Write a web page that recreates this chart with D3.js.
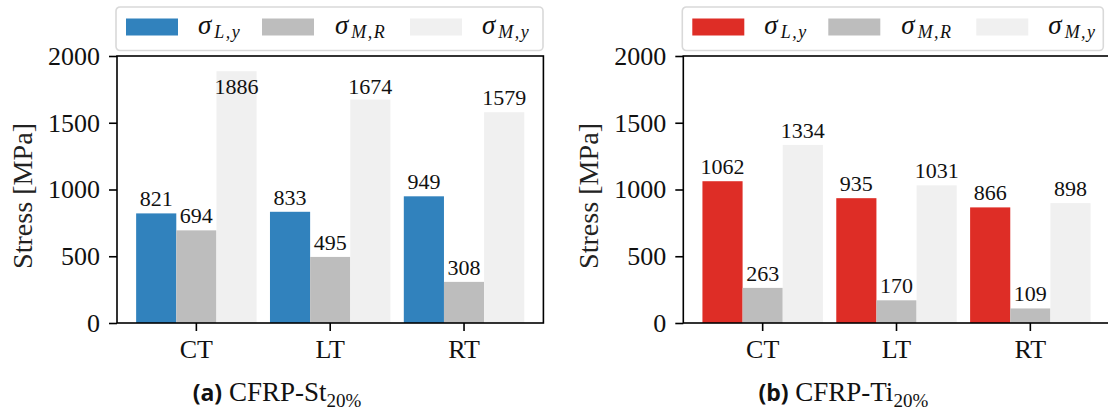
<!DOCTYPE html>
<html>
<head>
<meta charset="utf-8">
<script src="https://cdn.jsdelivr.net/npm/d3@7"></script>
<style>
  html, body { margin: 0; padding: 0; background: #fff; }
  svg { display: block; }
</style>
</head>
<body>
<svg id="fig" width="1108" height="412"></svg>
<script>
// Test locations on the x axis
const categories = ["CT", "LT", "RT"];
// Series keys and their legend text (main symbol + subscript)
const seriesKeys = ["Ly", "MR", "My"];
const seriesSymbol = ["σ", "σ", "σ"];
const seriesSub = ["L,y", "M,R", "M,y"];

// Yield / strength values in MPa, one array per series, per material
const stLy = [821, 833, 949];
const stMR = [694, 495, 308];
const stMy = [1886, 1674, 1579];

const tiLy = [1062, 935, 866];
const tiMR = [263, 170, 109];
const tiMy = [1334, 1031, 898];

const yTicks = [0, 500, 1000, 1500, 2000];

const panels = [
  { tag: "(a)", name: "CFRP-St", sub: "20%", series: [stLy, stMR, stMy],
    colors: ["#3182bd", "#bdbdbd", "#f0f0f0"], left: 117, legendW: 427 },
  { tag: "(b)", name: "CFRP-Ti", sub: "20%", series: [tiLy, tiMR, tiMy],
    colors: ["#de2d26", "#bdbdbd", "#f0f0f0"], left: 683.3, legendW: 421 }
];

const svg = d3.select("#fig");
const AX_W = 426.4, TOP = 56, BOTTOM = 323;
const SERIF = "Liberation Serif, DejaVu Serif, serif";
const LABEL_CEIL = 1715; // labels of very tall bars are kept below the frame

const y = d3.scaleLinear().domain([0, 2000]).range([BOTTOM, TOP]);

panels.forEach(p => {
  const g = svg.append("g");
  const x0 = d3.scaleBand().domain(categories)
    .range([p.left, p.left + AX_W]).paddingInner(0.1).paddingOuter(0.143);
  const x1 = d3.scaleBand().domain(seriesKeys).range([0, x0.bandwidth()]);

  // bars and their value labels
  seriesKeys.forEach((k, si) => {
    const vals = p.series[si];
    const rows = categories.map((c, ci) => ({ c, v: vals[ci] }));
    g.append("g").selectAll("rect").data(rows).join("rect")
      .attr("x", d => x0(d.c) + x1(k))
      .attr("y", d => y(d.v))
      .attr("width", x1.bandwidth())
      .attr("height", d => y(0) - y(d.v))
      .attr("fill", p.colors[si]);
    g.append("g").selectAll("text").data(rows).join("text")
      .attr("x", d => x0(d.c) + x1(k) + x1.bandwidth() / 2)
      .attr("y", d => Math.max(y(d.v) - 7, y(LABEL_CEIL)))
      .attr("text-anchor", "middle")
      .style("font-family", SERIF)
      .attr("font-size", 22)
      .attr("fill", "#111")
      .text(d => d.v);
  });

  // y axis
  const yAxis = g.append("g").attr("transform", `translate(${p.left},0)`)
    .call(d3.axisLeft(y).tickValues(yTicks).tickFormat(d3.format("d"))
      .tickSize(8).tickSizeOuter(0).tickPadding(9));
  yAxis.attr("font-family", null);
  yAxis.select(".domain").remove();
  yAxis.selectAll(".tick line").attr("stroke", "#000").attr("stroke-width", 1.6);
  yAxis.selectAll(".tick text").style("font-family", SERIF).attr("font-size", 26).attr("fill", "#111");

  // x axis
  const xAxis = g.append("g").attr("transform", `translate(0,${BOTTOM})`)
    .call(d3.axisBottom(x0).tickSize(8).tickSizeOuter(0).tickPadding(9));
  xAxis.attr("font-family", null);
  xAxis.select(".domain").remove();
  xAxis.selectAll(".tick line").attr("stroke", "#000").attr("stroke-width", 1.6);
  xAxis.selectAll(".tick text").style("font-family", SERIF).attr("font-size", 26).attr("fill", "#111");

  // frame
  g.append("rect").attr("x", p.left).attr("y", TOP)
    .attr("width", AX_W).attr("height", BOTTOM - TOP)
    .attr("fill", "none").attr("stroke", "#000").attr("stroke-width", 1.6);

  // y label
  g.append("text")
    .attr("transform", `translate(${p.left - 85},196) rotate(-90)`)
    .attr("text-anchor", "middle")
    .style("font-family", SERIF).attr("font-size", 27).attr("fill", "#222")
    .attr("textLength", 146).attr("lengthAdjust", "spacingAndGlyphs")
    .text("Stress [MPa]");

  // legend
  const lx = p.left - 1, ly = 7;
  const lg = g.append("g").attr("transform", `translate(${lx},${ly})`);
  lg.append("rect").attr("width", p.legendW).attr("height", 43.5).attr("rx", 4)
    .attr("fill", "#fff").attr("stroke", "#d9d9d9").attr("stroke-width", 1.6);
  const patchX = [10, 146, 294], textX = [82, 219, 366];
  seriesKeys.forEach((k, si) => {
    lg.append("rect").attr("x", patchX[si]).attr("y", 11.5)
      .attr("width", 52).attr("height", 17).attr("fill", p.colors[si]);
    const t = lg.append("text").attr("x", textX[si]).attr("y", 26.5)
      .style("font-family", SERIF).attr("font-style", "italic").attr("fill", "#111");
    t.append("tspan").attr("font-size", 27).text(seriesSymbol[si]);
    t.append("tspan").attr("font-size", 18).attr("dy", 4).attr("dx", 3)
      .attr("letter-spacing", 1.5).text(seriesSub[si]);
  });

  // caption
  const cap = svg.append("text")
    .attr("x", p.left - 117 + 277).attr("y", 401)
    .attr("text-anchor", "middle").attr("fill", "#111");
  cap.append("tspan").style("font-family", "Open Sans, Lato, sans-serif")
    .attr("font-weight", 700).attr("font-size", 23).text(p.tag);
  cap.append("tspan").style("font-family", SERIF).attr("font-size", 27).text(" " + p.name);
  cap.append("tspan").style("font-family", SERIF).attr("font-size", 19).attr("dy", 6).text(p.sub);
});
</script>
</body>
</html>
